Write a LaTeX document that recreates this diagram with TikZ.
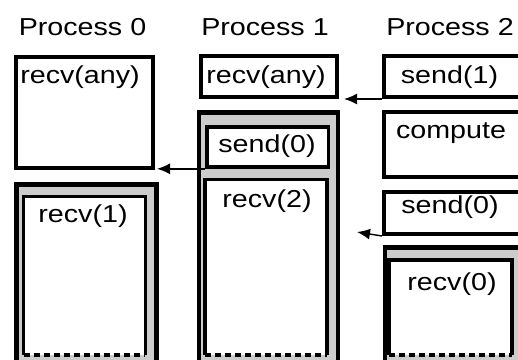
\documentclass[tikz,border=0pt]{standalone}
\usepackage{fontspec}
\setmainfont{Liberation Sans}[FakeStretch=1.17]
\usetikzlibrary{arrows.meta,calc}

\begin{document}
\begin{tikzpicture}[x=1pt,y=-1pt,
  lbl/.style={font=\fontsize{24.5}{24.5}\selectfont, anchor=base, inner sep=0pt},
  boxnode/.style={rectangle, draw, line width=4pt, fill=white, inner sep=0pt,
                  anchor=north west, minimum width=#1},
  cell/.style={rectangle, fill=white, inner sep=0pt, anchor=north west},
  framenode/.style={rectangle, draw, line width=4.5pt, fill=gray!40, inner sep=0pt,
                    anchor=north west},
  edge/.style={line width=3.8pt},
  cut/.style={line width=4pt, dash pattern=on 6pt off 4pt},
  msg/.style={line width=1.4pt, -{Latex[length=13pt,width=11pt]}},
]
\useasboundingbox (0,0) rectangle (518,359);
\fill[white] (0,0) rectangle (518,359);
\clip (0,0) rectangle (518,359);

% column titles
\node[lbl] (t0) at (82.5,35) {Process 0};
\node[lbl] (t1) at (265,35) {Process 1};
\node[lbl] (t2) at (450,35) {Process 2};

% ---------- Process 0 ----------
\node[boxnode=137pt, minimum height=111pt] (p0a) at (14,55) {};
\node[framenode, minimum width=140pt, minimum height=200pt] (p0f) at (14,182) {};
\node[cell, minimum width=121.5pt, minimum height=158pt] (p0b) at (23.5,196.5) {};
\draw[edge] (p0b.south west) -- (p0b.north west) -- (p0b.north east) -- (p0b.south east);
\draw[cut] (p0b.south west) -- (p0b.south east);

% ---------- Process 1 ----------
\node[boxnode=136pt, minimum height=41pt] (p1a) at (199,54) {};
\node[framenode, minimum width=139pt, minimum height=270pt] (p1f) at (196.5,110) {};
\node[cell, draw, line width=3.8pt, minimum width=121.5pt, minimum height=40pt] (p1s) at (205,125) {};
\node[cell, minimum width=121.5pt, minimum height=175pt] (p1b) at (205,179.5) {};
\draw[edge] (p1b.south west) -- (p1b.north west) -- (p1b.north east) -- (p1b.south east);
\draw[cut] (p1b.south west) -- (p1b.south east);

% ---------- Process 2 ----------
\node[boxnode=218pt, minimum height=41pt] (p2a) at (382,54) {};
\node[boxnode=218pt, minimum height=65pt] (p2c) at (382,110) {};
\node[boxnode=218pt, minimum height=42pt] (p2s) at (382,190) {};
\node[framenode, minimum width=218pt, minimum height=150pt] (p2f) at (382.5,245) {};
\node[cell, minimum width=122.5pt, minimum height=94.5pt] (p2b) at (389,260) {};
\draw[edge] (p2b.south west) -- (p2b.north west) -- (p2b.north east) -- (p2b.south east);
\draw[cut] (p2b.south west) -- (p2b.south east);

% box texts
\node[lbl] (l0a) at (80,83)    {recv(any)};
\node[lbl] (l0b) at (83,222)   {recv(1)};
\node[lbl] (l1a) at (266,83)   {recv(any)};
\node[lbl] (l1s) at (267,152)  {send(0)};
\node[lbl] (l1b) at (267,207)  {recv(2)};
\node[lbl] (l2a) at (449.5,83) {send(1)};
\node[lbl] (l2c) at (451,138)  {compute};
\node[lbl] (l2s) at (450,213)  {send(0)};
\node[lbl] (l2b) at (452,290)  {recv(0)};

% messages
\draw[msg, shorten >=5pt] (p2a.south west) -- (p2a.south west -| p1a.east);
\draw[msg, shorten >=2pt] (p1s.south west) -- (p1s.south west -| p0a.east);
\coordinate (m3) at (357,232);
\draw[msg] (p2s.south west) -- (m3);
\end{tikzpicture}
\end{document}
